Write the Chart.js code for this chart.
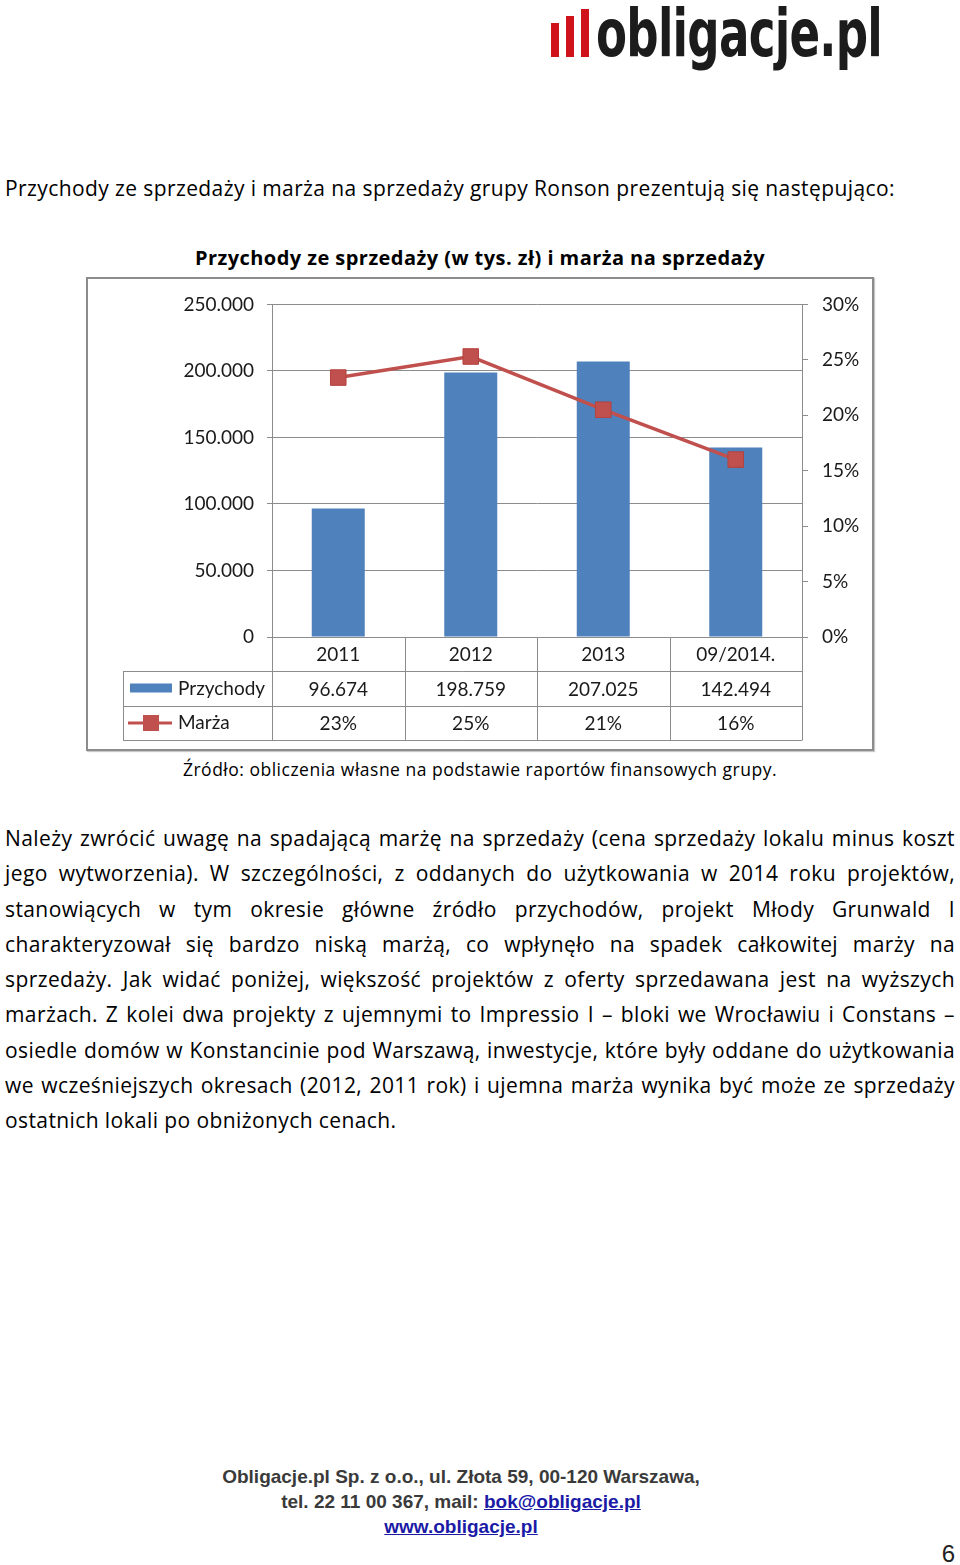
<!DOCTYPE html>
<html lang="pl">
<head>
<meta charset="utf-8">
<script src="https://cdn.jsdelivr.net/npm/chart.js@4.4.1/dist/chart.umd.min.js"></script>
<style>
  html, body { margin: 0; padding: 0; background: #fff; }
  body { width: 960px; height: 1565px; position: relative; overflow: hidden; font-family: "Open Sans", Lato, sans-serif; color: #000; }
  .abs { position: absolute; white-space: nowrap; }
  .bar { position: absolute; background: #d0121b; width: 8px; }
  #logoText { left: 596px; top: 1px; font-family: "DejaVu Sans Condensed", "DejaVu Sans", sans-serif; font-weight: bold; font-size: 66px; line-height: 66px; color: #1c1c1c; transform-origin: left top; letter-spacing: -1px; }
  #intro { left: 5px; top: 178px; font-size: 21px; line-height: 21px; letter-spacing: 0.4px; }
  #title { left: 0; width: 960px; text-align: center; top: 248px; font-size: 20px; line-height: 20px; font-weight: bold; letter-spacing: 0.45px; }
  #box { position: absolute; left: 86px; top: 277px; width: 788px; height: 474px; box-sizing: border-box; border: 2px solid #8c8c8c; box-shadow: 1px 1px 1px #c8c8c8; }
  #box canvas { display: block; }
  #source { left: 0; width: 960px; text-align: center; top: 761px; font-size: 17.5px; line-height: 17.5px; letter-spacing: 0.5px; }
  #para { position: absolute; left: 5px; top: 821px; width: 950px; font-size: 21px; line-height: 35.3px; letter-spacing: 0.4px; }
  #para div { white-space: nowrap; text-align: justify; text-align-last: justify; }
  #para div.last { text-align-last: left; }
  #footer { left: -19px; width: 960px; text-align: center; top: 1464px; font-family: "Liberation Sans", Arial, sans-serif; font-weight: bold; font-size: 19px; line-height: 25px; color: #3a3a3a; }
  #footer a { color: #1a1aa6; text-decoration: underline; }
  #page { right: 5px; top: 1542px; font-family: "Liberation Sans", Arial, sans-serif; font-size: 24px; line-height: 24px; color: #222; }
</style>
</head>
<body>
<div class="bar" style="left:551px; top:23px; height:34px;"></div>
<div class="bar" style="left:566px; top:16px; height:41px;"></div>
<div class="bar" style="left:581px; top:9px; height:48px;"></div>
<div id="logoText" class="abs">obligacje.pl</div>

<div id="intro" class="abs">Przychody ze sprzedaży i marża na sprzedaży grupy Ronson prezentują się następująco:</div>
<div id="title" class="abs">Przychody ze sprzedaży (w tys. zł) i marża na sprzedaży</div>
<div id="box"><canvas id="chart" width="784" height="470"></canvas></div>
<div id="source" class="abs">Źródło: obliczenia własne na podstawie raportów finansowych grupy.</div>

<div id="para">
  <div>Należy zwrócić uwagę na spadającą marżę na sprzedaży (cena sprzedaży lokalu minus koszt</div>
  <div>jego wytworzenia). W szczególności, z oddanych do użytkowania w 2014 roku projektów,</div>
  <div>stanowiących w tym okresie główne źródło przychodów, projekt Młody Grunwald I</div>
  <div>charakteryzował się bardzo niską marżą, co wpłynęło na spadek całkowitej marży na</div>
  <div>sprzedaży. Jak widać poniżej, większość projektów z oferty sprzedawana jest na wyższych</div>
  <div>marżach. Z kolei dwa projekty z ujemnymi to Impressio I – bloki we Wrocławiu i Constans –</div>
  <div>osiedle domów w Konstancinie pod Warszawą, inwestycje, które były oddane do użytkowania</div>
  <div>we wcześniejszych okresach (2012, 2011 rok) i ujemna marża wynika być może ze sprzedaży</div>
  <div class="last">ostatnich lokali po obniżonych cenach.</div>
</div>

<div id="footer" class="abs">Obligacje.pl Sp. z o.o., ul. Złota 59, 00-120 Warszawa,<br>tel. 22 11 00 367, mail: <a href="#">bok@obligacje.pl</a><br><a href="#">www.obligacje.pl</a></div>
<div id="page" class="abs">6</div>

<script>
// data
const categories = ["2011", "2012", "2013", "09/2014."];
const revenue = [96674, 198759, 207025, 142494];   // tys. zł
const margin = [23.4, 25.3, 20.5, 16.0];           // %
const revenueMax = 250000, revenueStep = 50000;
const marginMax = 30, marginStep = 5;

const blue = "#4f81bd";
const red = "#c0504d";
const gridGray = "#8c8c8c";
const textColor = "#1a1a1a";

function fmt(v) {
    return Number(v).toLocaleString("de-DE");
}

// fit the logo text to its width
(function () {
    const el = document.getElementById("logoText");
    const w = el.getBoundingClientRect().width;
    el.style.transform = "scaleX(" + (286 / w) + ")";
})();

// data table under the plot, drawn from the x scale
const dataTable = {
    id: "dataTable",
    afterDraw(chart) {
        const ctx = chart.ctx;
        const a = chart.chartArea;
        const x = chart.scales.x;
        const n = categories.length;
        const w = (a.right - a.left) / n;
        const y0 = a.bottom, y1 = y0 + 34, y2 = y1 + 35, y3 = y2 + 34;
        const tl = a.left - 149;

        ctx.save();
        ctx.strokeStyle = gridGray;
        ctx.lineWidth = 1;
        ctx.beginPath();
        for (let i = 0; i < n; i++) {
            const xx = Math.round(x.getPixelForValue(i) - w / 2) + 0.5;
            ctx.moveTo(xx, y0); ctx.lineTo(xx, y3);
        }
        const xr = Math.round(x.getPixelForValue(n - 1) + w / 2) + 0.5;
        ctx.moveTo(xr, y0); ctx.lineTo(xr, y3);
        ctx.moveTo(tl + 0.5, y1); ctx.lineTo(tl + 0.5, y3);
        [y1, y2, y3].forEach(function (yy) {
            ctx.moveTo(tl, Math.round(yy) + 0.5); ctx.lineTo(xr, Math.round(yy) + 0.5);
        });
        ctx.stroke();

        ctx.fillStyle = textColor;
        ctx.font = "19px Lato";
        ctx.textAlign = "center";
        ctx.textBaseline = "middle";
        for (let i = 0; i < n; i++) {
            const cx = x.getPixelForValue(i);
            ctx.fillText(categories[i], cx, (y0 + y1) / 2 + 1);
            ctx.fillText(fmt(revenue[i]), cx, (y1 + y2) / 2 + 1);
            ctx.fillText(Math.round(margin[i]) + "%", cx, (y2 + y3) / 2 + 1);
        }

        // legend keys
        const r1 = (y1 + y2) / 2, r2 = (y2 + y3) / 2;
        ctx.fillStyle = blue;
        ctx.fillRect(tl + 7, r1 - 5, 42, 9);
        ctx.strokeStyle = red;
        ctx.lineWidth = 3;
        ctx.beginPath();
        ctx.moveTo(tl + 5, r2); ctx.lineTo(tl + 49, r2);
        ctx.stroke();
        ctx.fillStyle = red;
        ctx.fillRect(tl + 20, r2 - 8, 16, 16);

        ctx.fillStyle = textColor;
        ctx.textAlign = "left";
        ctx.fillText("Przychody", tl + 55, r1);
        ctx.fillText("Marża", tl + 55, r2);
        ctx.restore();
    }
};

Chart.defaults.font.family = "Lato";
Chart.defaults.font.size = 19;
Chart.defaults.color = textColor;

new Chart(document.getElementById("chart"), {
    type: "bar",
    data: {
        labels: categories,
        datasets: [{
            type: "line",
            label: "Marża",
            data: margin,
            yAxisID: "y1",
            borderColor: red,
            borderWidth: 3.5,
            pointStyle: "rect",
            pointRadius: 11,
            pointHoverRadius: 11,
            pointBackgroundColor: red,
            pointBorderColor: "#b5433f",
            pointBorderWidth: 1,
            tension: 0,
            order: 0
        }, {
            label: "Przychody",
            data: revenue,
            yAxisID: "y",
            backgroundColor: blue,
            categoryPercentage: 1,
            barPercentage: 0.4,
            order: 1
        }]
    },
    options: {
        responsive: false,
        animation: false,
        layout: { padding: { left: 0, right: 0, top: 23, bottom: 112 } },
        plugins: { legend: { display: false }, tooltip: { enabled: false } },
        scales: {
            x: {
                grid: { display: false },
                border: { display: false },
                ticks: { display: false },
                afterFit(s) { s.height = 0; }
            },
            y: {
                position: "left",
                min: 0,
                max: revenueMax,
                ticks: { stepSize: revenueStep, padding: 13, callback: fmt },
                grid: { color: gridGray, tickLength: 5 },
                border: { display: true, color: gridGray },
                afterFit(s) { s.width = 184; }
            },
            y1: {
                position: "right",
                min: 0,
                max: marginMax,
                ticks: { stepSize: marginStep, padding: 14, callback: function (v) { return v + "%"; } },
                grid: { drawOnChartArea: false, color: gridGray, tickLength: 6 },
                border: { display: true, color: gridGray },
                afterFit(s) { s.width = 70; }
            }
        }
    },
    plugins: [dataTable]
});
</script>
</body>
</html>
